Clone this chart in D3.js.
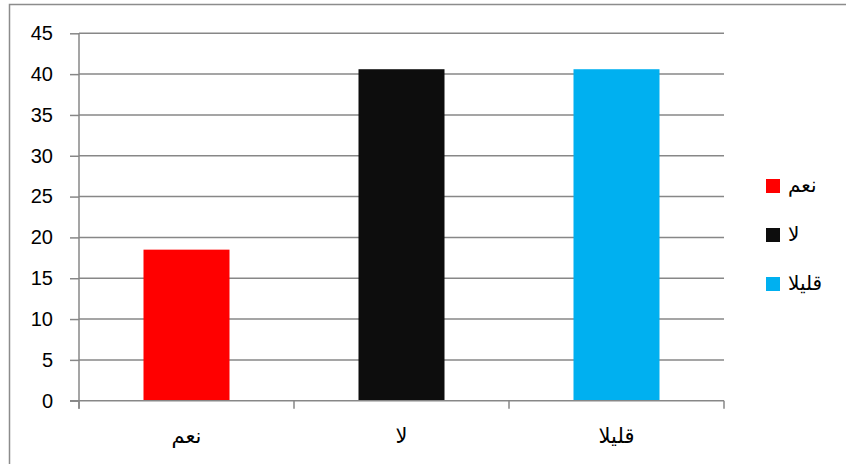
<!DOCTYPE html>
<html><head><meta charset="utf-8">
<script src="https://cdn.jsdelivr.net/npm/d3@7"></script>
<style>html,body{margin:0;padding:0;background:#fff;}svg{display:block;}</style>
</head><body>
<script>
const categories = ["نعم", "لا", "قليلا"];
const values = [18.5, 40.6, 40.6];
const colors = ["#FF0000", "#0D0D0D", "#00B0F0"];
const yTicks = [0, 5, 10, 15, 20, 25, 30, 35, 40, 45];

const W = 846, H = 464;
const svg = d3.select("body").append("svg").attr("width", W).attr("height", H);
const gridColor = "#878787";

svg.append("rect").attr("x", 9.5).attr("y", 4.5).attr("width", 900).attr("height", 600)
  .attr("fill", "none").attr("stroke", "#8c8c8c").attr("stroke-width", 1.5);

const x0 = 79, x1 = 724, yTop = 33.3, yBot = 400.7;
const x = d3.scaleBand().domain(categories).range([x0, x1]).paddingInner(0).paddingOuter(0);
const y = d3.scaleLinear().domain([0, 45]).range([yBot, yTop]);

// gridlines
svg.append("g").selectAll("line").data(yTicks.filter(d => d > 0)).join("line")
  .attr("x1", x0).attr("x2", x1).attr("y1", d => y(d)).attr("y2", d => y(d))
  .attr("stroke", gridColor).attr("stroke-width", 1.5);

// bars
const bw = x.bandwidth() * 0.4;
svg.append("g").selectAll("rect").data(categories).join("rect")
  .attr("x", d => x(d) + (x.bandwidth() - bw) / 2)
  .attr("width", bw)
  .attr("y", (d, i) => y(values[i]))
  .attr("height", (d, i) => y(0) - y(values[i]))
  .attr("fill", (d, i) => colors[i]);

// y axis
const yAxis = d3.axisLeft(y).tickValues(yTicks).tickSize(9).tickPadding(17);
const gy = svg.append("g").attr("transform", `translate(${x0},0)`).call(yAxis);
gy.select(".domain").remove();
gy.selectAll(".tick line").attr("stroke", gridColor).attr("stroke-width", 1.5);
gy.selectAll(".tick text").attr("font-family", "'Liberation Sans', Arial, sans-serif")
  .attr("font-size", 20).attr("fill", "#000");
svg.append("line").attr("x1", x0).attr("x2", x0).attr("y1", yTop).attr("y2", yBot + 8)
  .attr("stroke", gridColor).attr("stroke-width", 1.5);

// x axis
svg.append("line").attr("x1", x0 - 9).attr("x2", x1).attr("y1", yBot).attr("y2", yBot)
  .attr("stroke", gridColor).attr("stroke-width", 1.5);
const bounds = categories.map(c => x(c)).concat([x1]);
svg.append("g").selectAll("line").data(bounds).join("line")
  .attr("x1", d => d).attr("x2", d => d).attr("y1", yBot).attr("y2", yBot + 8)
  .attr("stroke", gridColor).attr("stroke-width", 1.5);
svg.append("g").selectAll("text").data(categories).join("text")
  .attr("x", d => x(d) + x.bandwidth() / 2).attr("y", 443)
  .attr("text-anchor", "middle")
  .attr("font-family", "'DejaVu Sans', 'Noto Sans', sans-serif").attr("font-size", 21)
  .attr("fill", "#000").text(d => d);

// legend
const lg = svg.append("g");
categories.forEach((c, i) => {
  const cy = 186 + i * 49;
  lg.append("rect").attr("x", 766).attr("y", cy - 7).attr("width", 14).attr("height", 14).attr("fill", colors[i]);
  lg.append("text").attr("x", 788).attr("y", cy + 6)
    .attr("font-family", "'DejaVu Sans', 'Noto Sans', sans-serif").attr("font-size", 20)
    .attr("fill", "#000").text(c);
});
</script>
</body></html>
